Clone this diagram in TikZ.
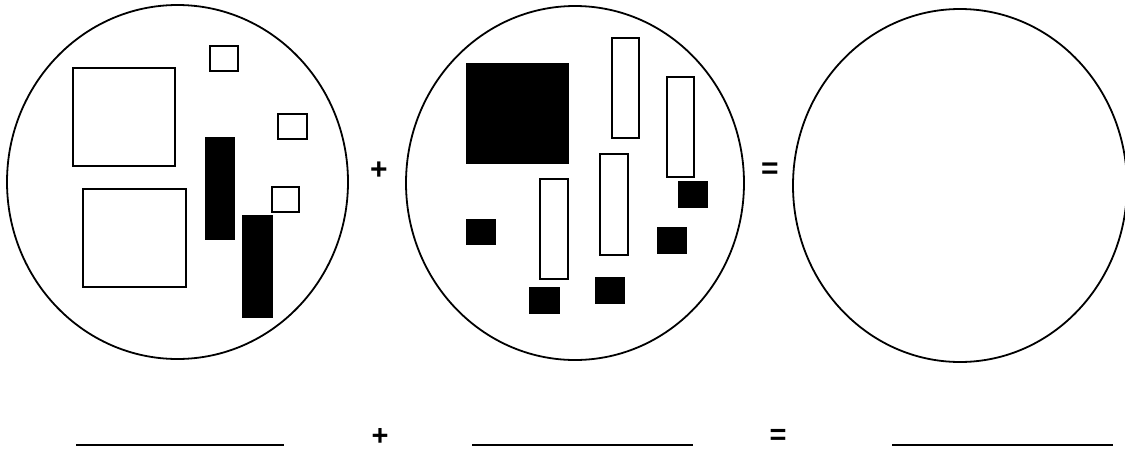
\documentclass[tikz,border=0pt]{standalone}
\usepackage{fontspec}
\setmainfont{Liberation Sans}
\begin{document}
\begin{tikzpicture}[x=1pt,y=-1pt,
  disc/.style={draw=black,line width=1.8pt},
  openbox/.style={draw=black,line width=1.7pt,fill=white},
  solidbox/.style={draw=black,line width=0.8pt,fill=black},
  blank/.style={draw=black,line width=1.4pt},
  sign/.style={inner sep=0pt,font=\bfseries\fontsize{30}{30}\selectfont},
  smallsign/.style={inner sep=0pt,font=\bfseries\fontsize{29}{29}\selectfont}]
\useasboundingbox (0,0) rectangle (1125,453);
\clip (0,0) rectangle (1125,453);
% circle 1
\draw[disc] (177.5,182) ellipse [x radius=170.5, y radius=177];
\draw[openbox] (73,68) rectangle (175,166);
\draw[openbox] (83,189) rectangle (186,287);
\draw[openbox] (210,46) rectangle (238,71);
\draw[openbox] (278,114) rectangle (307,139);
\draw[openbox] (272,187) rectangle (299,212);
\draw[solidbox] (205,137) rectangle (234,239);
\draw[solidbox] (242,215) rectangle (272,317);
% circle 2
\draw[disc] (575,183) ellipse [x radius=169, y radius=177];
\draw[solidbox] (466,63) rectangle (568,163);
\draw[openbox] (612,38) rectangle (639,138);
\draw[openbox] (667,77) rectangle (694,177);
\draw[openbox] (600,154) rectangle (628,255);
\draw[openbox] (540,179) rectangle (568,279);
\draw[solidbox] (466,219) rectangle (495,244);
\draw[solidbox] (529,287) rectangle (559,313);
\draw[solidbox] (595,277) rectangle (624,303);
\draw[solidbox] (657,227) rectangle (686,253);
\draw[solidbox] (678,181) rectangle (707,207);
% circle 3
\draw[disc] (960,185.5) ellipse [x radius=167, y radius=176.5];
% signs
\node[sign] (plus1) at (379,171) {+};
\node[sign] (eq1) at (770,171) {=};
% bottom row
\coordinate (l1a) at (76,445); \coordinate (l1b) at (284,445);
\coordinate (l2a) at (472,445); \coordinate (l2b) at (693,445);
\coordinate (l3a) at (892,445); \coordinate (l3b) at (1113,445);
\draw[blank] (l1a) -- (l1b);
\draw[blank] (l2a) -- (l2b);
\draw[blank] (l3a) -- (l3b);
\node[smallsign] (plus2) at (380,437) {+};
\node[smallsign] (eq2) at (778,437) {=};
\end{tikzpicture}
\end{document}
